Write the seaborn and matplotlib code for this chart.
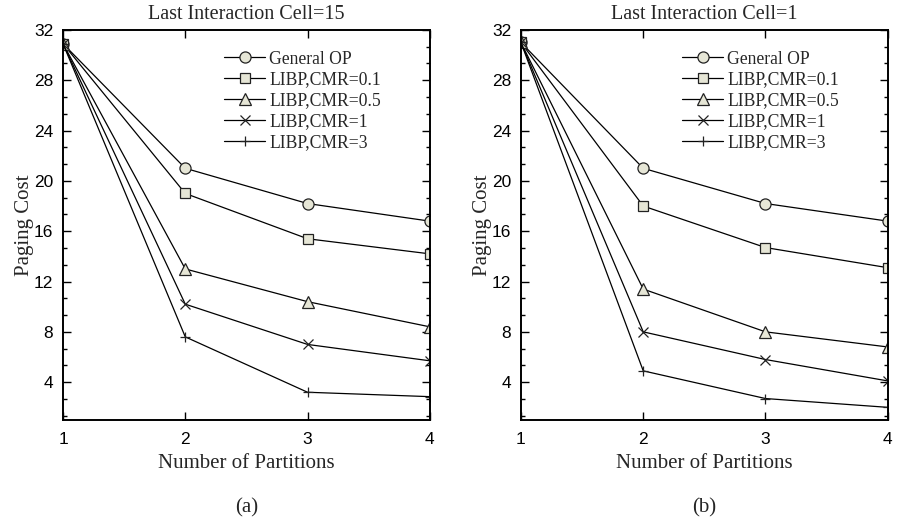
import matplotlib
matplotlib.use("Agg")
import matplotlib.pyplot as plt
import seaborn as sns
import pandas as pd
from matplotlib.ticker import MultipleLocator, FixedLocator

partitions = [1, 2, 3, 4]
series_names = ["General OP", "LIBP,CMR=0.1", "LIBP,CMR=0.5", "LIBP,CMR=1", "LIBP,CMR=3"]

# Panel (a): Last Interaction Cell=15
a_general = [30.9, 21.0, 18.2, 16.8]
a_cmr01 = [30.9, 19.0, 15.4, 14.2]
a_cmr05 = [30.9, 13.0, 10.4, 8.4]
a_cmr1 = [30.9, 10.2, 7.0, 5.7]
a_cmr3 = [30.9, 7.6, 3.2, 2.85]

# Panel (b): Last Interaction Cell=1
b_general = [31.0, 21.0, 18.2, 16.8]
b_cmr01 = [31.0, 18.0, 14.7, 13.1]
b_cmr05 = [31.0, 11.4, 8.0, 6.8]
b_cmr1 = [31.0, 8.0, 5.8, 4.1]
b_cmr3 = [31.0, 4.9, 2.7, 2.0]

titles = ["Last Interaction Cell=15", "Last Interaction Cell=1"]
panel_labels = ["(a)", "(b)"]
y_ticks = [4, 8, 12, 16, 20, 24, 28, 32]

sns.set_theme(style="ticks")
plt.rcParams["font.family"] = ["Liberation Serif", "DejaVu Serif"]

markers = ["o", "s", "^", "x", "+"]
fill = "#e6e6d6"

fig = plt.figure(figsize=(8.99, 5.21), dpi=100)
axes = [fig.add_axes([0.0701, 0.194, 0.408, 0.7486]),
        fig.add_axes([0.5795, 0.194, 0.408, 0.7486])]

panels = [[a_general, a_cmr01, a_cmr05, a_cmr1, a_cmr3],
          [b_general, b_cmr01, b_cmr05, b_cmr1, b_cmr3]]

for ax, data, title, plab in zip(axes, panels, titles, panel_labels):
    for name, vals, m in zip(series_names, data, markers):
        df = pd.DataFrame({"x": partitions, "y": vals})
        sns.lineplot(data=df, x="x", y="y", ax=ax, color="black", linewidth=0.9,
                     marker=m, markersize=8 if m in "o^" else 7,
                     markerfacecolor=fill, markeredgecolor="#222222",
                     markeredgewidth=0.9, label=name)
    ax.set_xlim(1, 4)
    ax.set_ylim(1, 32)
    ax.xaxis.set_major_locator(FixedLocator([1, 2, 3, 4]))
    ax.yaxis.set_major_locator(FixedLocator(y_ticks))
    ax.yaxis.set_minor_locator(MultipleLocator(4 / 3))
    ax.tick_params(which="both", direction="in", top=True, right=True,
                   width=1.0, colors="black")
    ax.tick_params(which="major", length=5.5, pad=7, labelsize=12.5)
    ax.tick_params(which="minor", length=3)
    ax.tick_params(axis="x", which="major", pad=9)
    for lab in ax.get_xticklabels() + ax.get_yticklabels():
        lab.set_family(["Liberation Sans", "DejaVu Sans"])
    for sp in ax.spines.values():
        sp.set_linewidth(1.4)
        sp.set_color("black")
    ax.set_title(title, fontsize=14.5, pad=8)
    ax.set_xlabel("Number of Partitions", fontsize=15, labelpad=5)
    ax.set_ylabel("Paging Cost", fontsize=15, labelpad=0)
    ax.text(0.5, -0.2, plab, transform=ax.transAxes, ha="center", va="top",
            fontsize=15)
    ax.legend(loc="upper left", bbox_to_anchor=(0.44, 0.947), frameon=False,
              fontsize=12.7, handlelength=2.3, handletextpad=0.25,
              labelspacing=0.22, borderpad=0, borderaxespad=0)

fig.savefig("out.png", dpi=100)
